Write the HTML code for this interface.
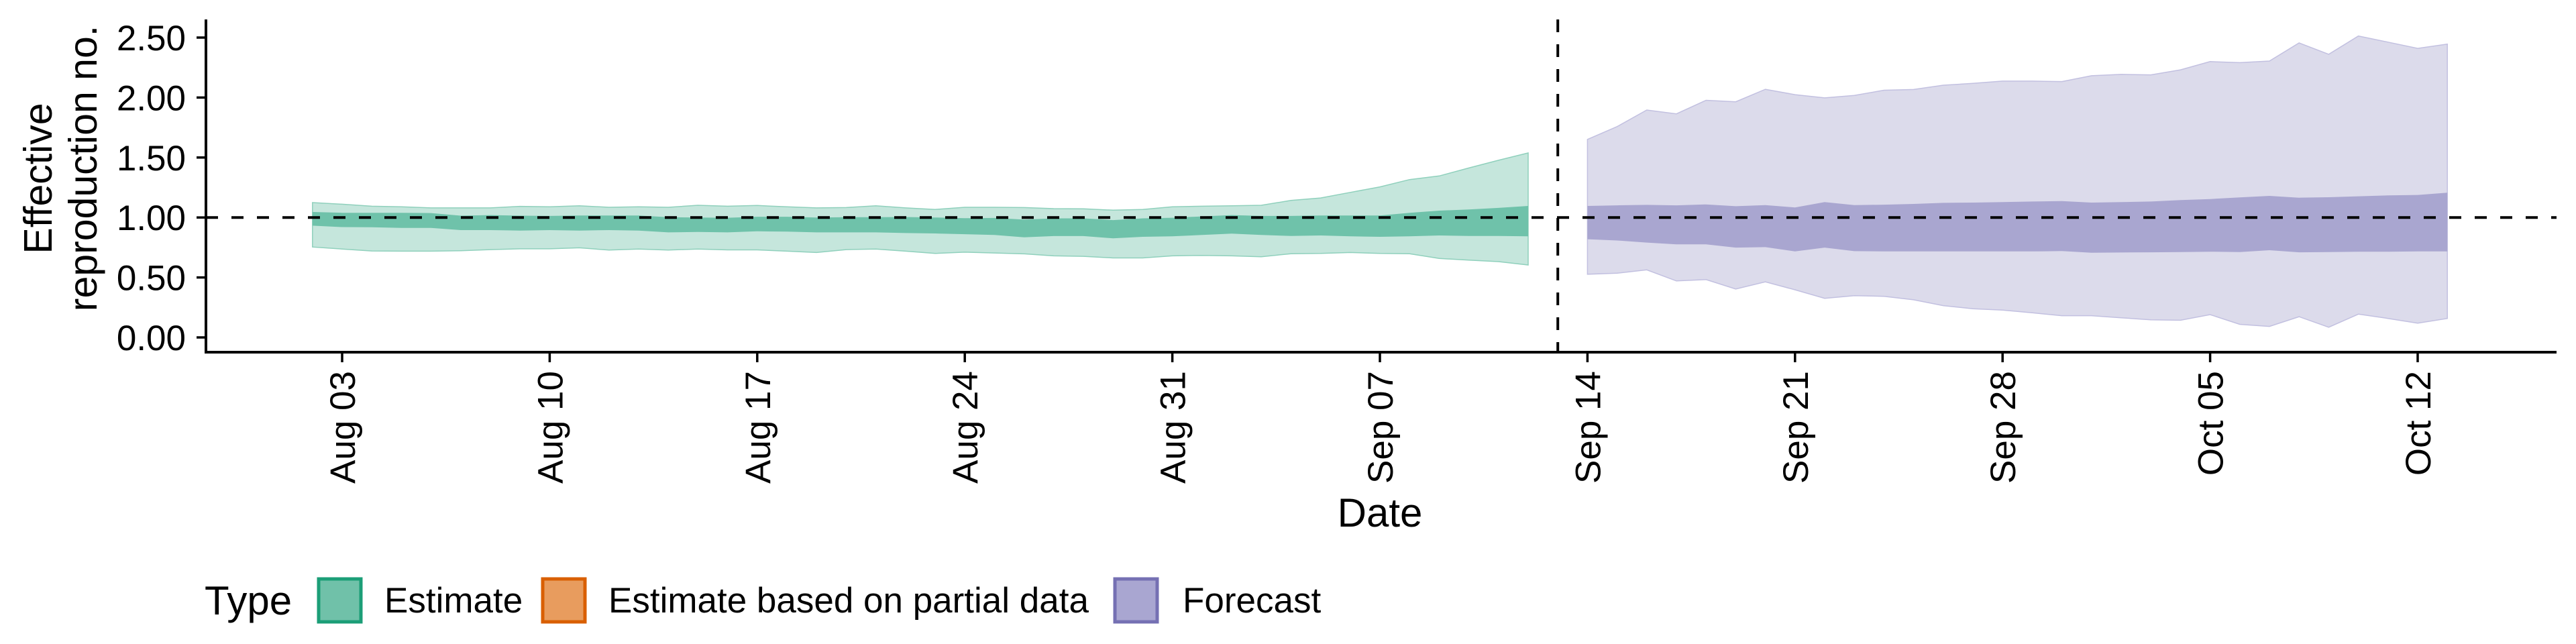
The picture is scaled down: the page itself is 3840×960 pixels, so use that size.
<!DOCTYPE html>
<html><head><meta charset="utf-8">
<style>
html,body{margin:0;padding:0;background:#fff;}
svg{display:block;font-family:"Liberation Sans",sans-serif;}
</style></head>
<body>
<svg id="chart" width="3840" height="960" viewBox="0 0 3840 960" xmlns="http://www.w3.org/2000/svg">
<g id="bands"></g>
<g id="axes"></g>
<g id="legend">
  <text x="305" y="916" font-size="60" fill="#000">Type</text>
  <rect x="475" y="863" width="63" height="64" fill="#70c1a9" stroke="#1b9e77" stroke-width="5"/>
  <text x="573" y="913" font-size="53">Estimate</text>
  <rect x="809" y="863" width="63" height="64" fill="#e89c5e" stroke="#d95f02" stroke-width="5"/>
  <text x="907" y="913" font-size="53">Estimate based on partial data</text>
  <rect x="1662" y="863" width="63" height="64" fill="#a9a6d1" stroke="#7570b3" stroke-width="5"/>
  <text x="1763" y="913" font-size="53">Forecast</text>
</g>
</svg>
<script>
// Data: days offset from Aug 03
const estStartDay = -1;
const estUpper90 = [1.124,1.111,1.094,1.089,1.080,1.080,1.080,1.093,1.089,1.098,1.085,1.089,1.085,1.102,1.094,1.100,1.089,1.080,1.083,1.098,1.080,1.067,1.085,1.085,1.083,1.074,1.072,1.061,1.067,1.089,1.094,1.098,1.102,1.142,1.163,1.209,1.255,1.316,1.346,1.413,1.477,1.538];
const estLower90 = [0.754,0.737,0.721,0.719,0.719,0.723,0.732,0.739,0.739,0.747,0.728,0.737,0.728,0.737,0.730,0.730,0.719,0.708,0.732,0.737,0.719,0.700,0.711,0.704,0.697,0.680,0.676,0.663,0.663,0.680,0.684,0.680,0.673,0.698,0.700,0.708,0.700,0.698,0.658,0.645,0.632,0.604];
const estUpper50 = [1.046,1.039,1.039,1.039,1.037,1.015,1.020,1.015,1.013,1.017,1.017,1.017,1.002,1.000,0.998,1.006,1.006,1.000,1.002,1.002,1.004,1.000,0.994,0.996,0.982,0.993,0.993,0.978,0.993,0.998,1.009,1.020,1.013,1.013,1.017,1.017,1.017,1.039,1.057,1.067,1.080,1.096];
const estLower50 = [0.932,0.920,0.919,0.913,0.913,0.895,0.895,0.891,0.895,0.891,0.895,0.891,0.876,0.880,0.876,0.885,0.882,0.876,0.876,0.876,0.870,0.867,0.861,0.854,0.835,0.845,0.845,0.826,0.839,0.843,0.854,0.865,0.854,0.846,0.850,0.843,0.839,0.843,0.850,0.846,0.846,0.843];
const fcStartDay = 42;
const fcUpper90 = [1.651,1.758,1.896,1.864,1.977,1.965,2.069,2.024,1.997,2.018,2.061,2.067,2.103,2.118,2.137,2.137,2.133,2.182,2.193,2.189,2.231,2.300,2.291,2.304,2.455,2.361,2.513,2.462,2.410,2.445];
const fcLower90 = [0.527,0.535,0.563,0.471,0.482,0.403,0.463,0.397,0.326,0.348,0.343,0.314,0.265,0.239,0.228,0.205,0.181,0.181,0.164,0.147,0.143,0.190,0.109,0.092,0.173,0.085,0.194,0.158,0.119,0.158];
const fcUpper50 = [1.096,1.101,1.105,1.101,1.109,1.094,1.103,1.084,1.128,1.103,1.107,1.113,1.122,1.124,1.128,1.133,1.137,1.124,1.128,1.133,1.145,1.154,1.167,1.180,1.165,1.169,1.177,1.184,1.188,1.207];
const fcLower50 = [0.819,0.808,0.791,0.776,0.776,0.749,0.753,0.717,0.749,0.719,0.717,0.717,0.717,0.717,0.717,0.717,0.720,0.706,0.708,0.710,0.712,0.715,0.712,0.727,0.710,0.712,0.715,0.715,0.717,0.717];
const yTicks = [0,0.5,1,1.5,2,2.5];
const yTickLabels = ["0.00","0.50","1.00","1.50","2.00","2.50"];
const xTickDays = [0,7,14,21,28,35,42,49,56,63,70];
const xTickLabels = ["Aug 03","Aug 10","Aug 17","Aug 24","Aug 31","Sep 07","Sep 14","Sep 21","Sep 28","Oct 05","Oct 12"];
const refValue = 1;
const cutoffDay = 41;

const NS="http://www.w3.org/2000/svg";
const X0=510, DX=44.2, Y0=503, DY=178.8;
const AXL=307, AXR=3811, AXB=525, AXT=29;
function xs(d){return X0+DX*d;}
function ys(v){return Y0-DY*v;}
function mk(tag,attrs,parent){const e=document.createElementNS(NS,tag);for(const k in attrs)e.setAttribute(k,attrs[k]);parent.appendChild(e);return e;}
function bandPath(start,up,lo){
  let p=[];
  up.forEach((v,i)=>p.push((i?'L':'M')+xs(start+i).toFixed(1)+','+ys(v).toFixed(1)));
  for(let i=lo.length-1;i>=0;i--)p.push('L'+xs(start+i).toFixed(1)+','+ys(lo[i]).toFixed(1));
  return p.join('')+'Z';
}
const bands=document.getElementById('bands');
let e;
e=mk('path',{d:bandPath(estStartDay,estUpper90,estLower90),fill:'#c5e6dc',stroke:'#8fd0bc','stroke-width':1.5},bands);


e=mk('path',{d:bandPath(estStartDay,estUpper50,estLower50),fill:'#6fc2aa'},bands);


e=mk('path',{d:bandPath(fcStartDay,fcUpper90,fcLower90),fill:'#dcdbeb',stroke:'#c2c0e0','stroke-width':1.5},bands);


e=mk('path',{d:bandPath(fcStartDay,fcUpper50,fcLower50),fill:'#a9a6d0'},bands);



const axes=document.getElementById('axes');
e=mk('line',{x1:AXL,x2:AXR,y1:ys(refValue),y2:ys(refValue),stroke:'#000','stroke-width':4,'stroke-dasharray':'18 20'},axes);


e=mk('line',{x1:xs(cutoffDay),x2:xs(cutoffDay),y1:AXT,y2:AXB,stroke:'#000','stroke-width':4,'stroke-dasharray':'19 18'},axes);


e=mk('line',{x1:AXL,x2:AXL,y1:AXT,y2:AXB+2,stroke:'#000','stroke-width':4},axes);


e=mk('line',{x1:AXL-2,x2:AXR,y1:AXB,y2:AXB,stroke:'#000','stroke-width':4},axes);


yTicks.forEach((v,i)=>{
  const t=mk('line',{x1:AXL-14,x2:AXL,y1:ys(v),y2:ys(v),stroke:'#000','stroke-width':3.5},axes);
  
  
  const l=mk('text',{x:277,y:ys(v)+19,'font-size':53,'text-anchor':'end',fill:'#000'},axes);
  l.textContent=yTickLabels[i];
  
  
});
xTickDays.forEach((d,i)=>{
  const t=mk('line',{x1:xs(d),x2:xs(d),y1:AXB,y2:AXB+15,stroke:'#000','stroke-width':3.5},axes);
  
  
  const l=mk('text',{'font-size':53,'text-anchor':'end',fill:'#000',transform:'translate('+(xs(d)+19)+',553) rotate(-90)'},axes);
  l.textContent=xTickLabels[i];
  
  
});
e=mk('text',{x:2057,y:785,'font-size':60,'text-anchor':'middle'},axes);
e.textContent='Date';


e=mk('text',{'font-size':59,'text-anchor':'middle',transform:'translate(77,266) rotate(-90)'},axes);
e.textContent='Effective';


e=mk('text',{'font-size':59,'text-anchor':'middle',transform:'translate(144,251) rotate(-90)'},axes);
e.textContent='reproduction no.';


</script>
</body></html>
